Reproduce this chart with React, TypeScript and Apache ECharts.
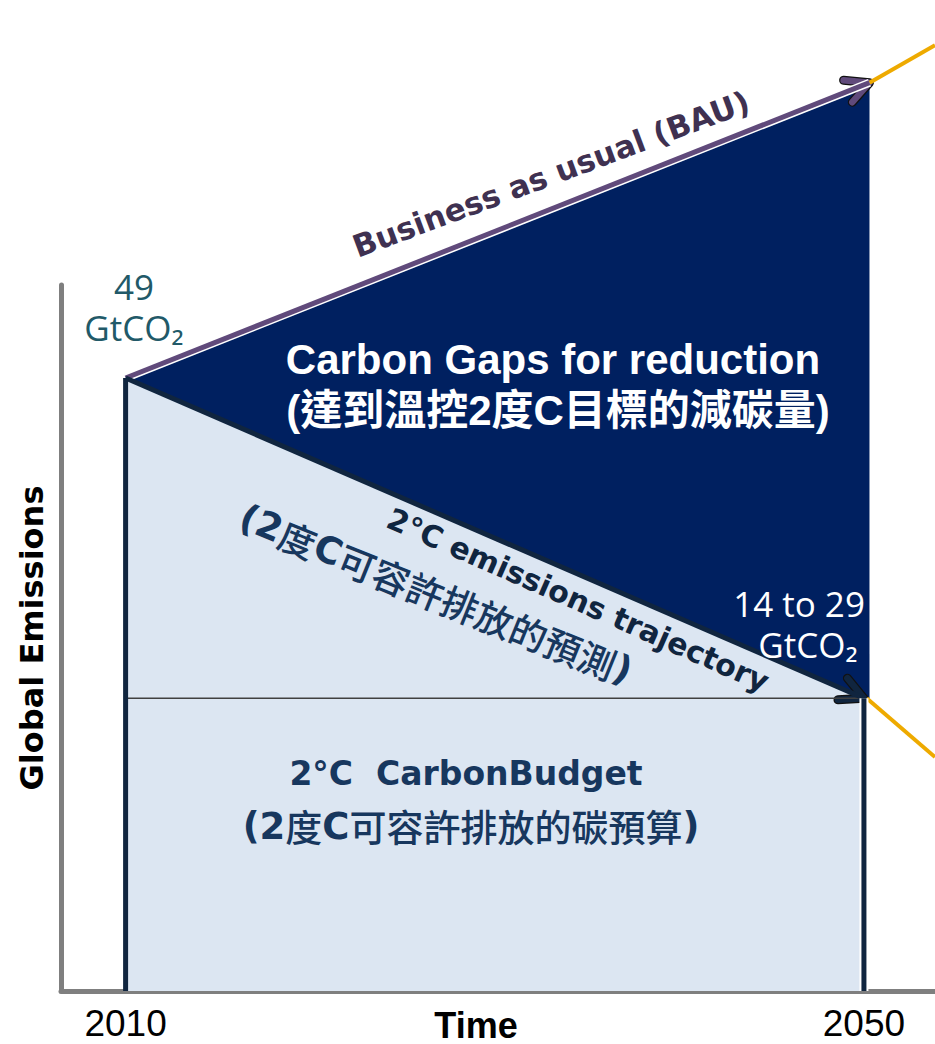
import { useEffect, useRef } from 'react';
import * as echarts from 'echarts';

// ---- data ----
const startYear = 2010;
const endYear = 2050;
const xTickLabels = [2010, 2050];
const xRange = [2006.5, 2053.85];
const yRange = [0, 56.43];
const startEmission = 49; // GtCO2 in 2010
const bauEndYear = 2050.3;
const bauEnd = 72.6; // BAU in 2050
const trajEnd = 23.4; // 2°C trajectory in 2050 (14 to 29)
const bauPoints = [[startYear, startEmission], [bauEndYear, bauEnd]];
const trajPoints = [[startYear, startEmission], [endYear, trajEnd]];
const budgetLevel = [[startYear, trajEnd], [endYear, trajEnd]];
const bauExtension = [[bauEndYear, bauEnd], [2053.85, 75.6]];
const trajExtension = [[2050.15, trajEnd], [2053.85, 18.7]];
const gapPolygon = [[startYear, startEmission], [bauEndYear, bauEnd], [bauEndYear, trajEnd], [endYear, trajEnd]];
const budgetPolygon = [[startYear, startEmission], [endYear, trajEnd], [endYear, 0], [startYear, 0]];
const startVertical = [[startYear, 0], [startYear, startEmission]];
const endVertical = [[endYear, 0], [endYear, trajEnd]];
const arrowLines = [
  [startYear, startEmission, bauEndYear, bauEnd],
  [startYear, startEmission, endYear, trajEnd],
];
const arrowColors = ['#604A7B', '#10253F'];

const GEO = "'DejaVu Sans', 'Noto Sans CJK TC', sans-serif";
const ARIAL = "'Liberation Sans', Arial, 'Noto Sans CJK TC', sans-serif";
const CJK = "'Noto Sans CJK TC', 'Noto Sans CJK SC', sans-serif";
const OPEN = "'Open Sans', 'DejaVu Sans', sans-serif";

function lineSeries(data: number[][], color: string, width: number, cap = 'butt') {
  return {
    type: 'line',
    data,
    symbol: 'none',
    silent: true,
    clip: false,
    lineStyle: { color, width, cap },
  };
}

function polygonSeries(points: number[][], fill: string) {
  return {
    type: 'custom',
    silent: true,
    clip: false,
    data: [points[0]],
    renderItem: (_p: any, api: any) => ({
      type: 'polygon',
      shape: { points: points.map((pt) => api.coord(pt)) },
      style: { fill, stroke: null },
    }),
  };
}

function plainText(text: string, x: number, y: number, size: number, color: string, family: string, align = 'center', weight: any = 'normal', lineHeight?: number) {
  return {
    type: 'text',
    x,
    y,
    z: 100,
    silent: true,
    style: { text, fontSize: size, fontFamily: family, fontWeight: weight, fill: color, align, verticalAlign: 'middle', lineHeight },
  };
}

function mixedCjk(parts: [string, string][], color: string, size: number) {
  return {
    text: parts.map(([k, t]) => `{${k}|${t}}`).join(''),
    rich: {
      b: { fontSize: size, fontFamily: GEO, fontWeight: 'bold', fill: color },
      c: { fontSize: size, fontFamily: CJK, fontWeight: 500, fill: color },
    },
  };
}

export default function App() {
  const ref = useRef<HTMLDivElement>(null);
  useEffect(() => {
    if (!ref.current) return;
    const chart = echarts.init(ref.current, undefined, { renderer: 'svg' });
    const deg = Math.PI / 180;
    const option: any = {
      animation: false,
      backgroundColor: '#ffffff',
      grid: { left: 61, right: 0, top: 285, bottom: 53, containLabel: false, outerBoundsMode: 'none' },
      xAxis: {
        type: 'value',
        min: xRange[0],
        max: xRange[1],
        axisLine: { show: true, lineStyle: { color: '#7F7F7F', width: 5 } },
        axisTick: { show: false },
        splitLine: { show: false },
        axisLabel: {
          customValues: xTickLabels,
          formatter: (v: number) => String(v),
          fontSize: 37,
          lineHeight: 37,
          fontFamily: ARIAL,
          color: '#000',
          margin: 14,
        },
        name: 'Time',
        nameLocation: 'middle',
        nameGap: 16,
        nameMoveOverlap: false,
        nameTextStyle: {
          fontSize: 36,
          fontFamily: ARIAL,
          fontWeight: 'bold',
          color: '#000',
          padding: [0, 44, 0, 0],
        },
      },
      yAxis: {
        type: 'value',
        min: yRange[0],
        max: yRange[1],
        axisLine: { show: true, lineStyle: { color: '#7F7F7F', width: 5 } },
        axisTick: { show: false },
        splitLine: { show: false },
        axisLabel: { show: false },
        name: 'Global Emissions',
        nameLocation: 'middle',
        nameGap: 13,
        nameMoveOverlap: false,
        nameTextStyle: { fontSize: 32, fontFamily: GEO, fontWeight: 'bold', color: '#000' },
      },
      series: [
        polygonSeries(budgetPolygon, '#DCE6F2'),
        polygonSeries(gapPolygon, '#002060'),
        lineSeries(budgetLevel, '#404040', 1.5),
        lineSeries(bauExtension, '#EEAA00', 4),
        lineSeries(trajExtension, '#EEAA00', 4),
        lineSeries(bauPoints, '#ffffff', 8),
        lineSeries(bauPoints, '#604A7B', 5),
        lineSeries(trajPoints, '#10253F', 5),
        lineSeries(startVertical, '#10253F', 5),
        lineSeries(endVertical, '#ffffff', 9),
        lineSeries(endVertical, '#10253F', 5),
        {
          type: 'custom',
          silent: true,
          clip: false,
          data: arrowLines,
          renderItem: (params: any, api: any) => {
            const p0 = api.coord([api.value(0), api.value(1)]);
            const p1 = api.coord([api.value(2), api.value(3)]);
            const dx = p1[0] - p0[0];
            const dy = p1[1] - p0[1];
            const len = Math.hypot(dx, dy);
            const bx = -dx / len;
            const by = -dy / len;
            const a = 27 * deg;
            const L = 26;
            const rot = (x: number, y: number, t: number) => [x * Math.cos(t) - y * Math.sin(t), x * Math.sin(t) + y * Math.cos(t)];
            const r1 = rot(bx, by, a);
            const r2 = rot(bx, by, -a);
            const pts = [
              [p1[0] + r1[0] * L, p1[1] + r1[1] * L],
              [p1[0], p1[1]],
              [p1[0] + r2[0] * L, p1[1] + r2[1] * L],
            ];
            const color = arrowColors[params.dataIndex];
            return {
              type: 'group',
              children: [
                { type: 'polyline', shape: { points: pts }, style: { stroke: '#111111', lineWidth: 9, fill: null, lineCap: 'round', lineJoin: 'round' } },
                { type: 'polyline', shape: { points: pts }, style: { stroke: color, lineWidth: 6.5, fill: null, lineCap: 'round', lineJoin: 'round' } },
              ],
            };
          },
        },
      ],
      graphic: [
        plainText('49', 134, 286, 35, '#215968', OPEN, 'center', 'normal', 34),
        plainText('GtCO₂', 134, 327, 35, '#215968', OPEN, 'center', 'normal', 34),
        plainText('14 to 29', 799, 603, 35, '#ffffff', OPEN, 'center', 'normal', 34),
        plainText('GtCO₂', 808, 644, 35, '#ffffff', OPEN, 'center', 'normal', 34),
        plainText('Carbon Gaps for reduction', 553, 359, 42, '#ffffff', ARIAL, 'center', 'bold'),
        plainText('(達到溫控2度C目標的減碳量)', 558, 410, 42, '#ffffff', ARIAL, 'center', 'bold'),
        {
          type: 'text', x: 551, y: 174, z: 100, rotation: 20.5 * deg, silent: true,
          style: { text: 'Business as usual (BAU)', fontSize: 31, fontWeight: 'bold', fontFamily: GEO, fill: '#3F3151', align: 'center', verticalAlign: 'middle' },
        },
        {
          type: 'text', x: 578, y: 600, z: 100, rotation: -23.7 * deg, silent: true,
          style: { text: '2°C emissions trajectory', fontSize: 30, fontWeight: 'bold', fontFamily: GEO, fill: '#10253F', align: 'center', verticalAlign: 'middle' },
        },
        {
          type: 'text', x: 436, y: 594, z: 100, rotation: -22 * deg, silent: true,
          style: {
            ...mixedCjk([['b', '(2'], ['c', '度'], ['b', 'C'], ['c', '可容許排放的預測'], ['b', ')']], '#17375E', 37),
            align: 'center', verticalAlign: 'middle',
          },
        },
        plainText('2°C  CarbonBudget', 466, 773, 33, '#17375E', GEO, 'center', 'bold'),
        {
          type: 'text', x: 471, y: 826, z: 100, silent: true,
          style: {
            ...mixedCjk([['b', '(2'], ['c', '度'], ['b', 'C'], ['c', '可容許排放的碳預算'], ['b', ')']], '#17375E', 37),
            align: 'center', verticalAlign: 'middle',
          },
        },
      ],
    };
    chart.setOption(option);
    return () => chart.dispose();
  }, []);
  return <div ref={ref} style={{ position: 'fixed', left: 0, top: 0, width: 935, height: 1044 }} />;
}
